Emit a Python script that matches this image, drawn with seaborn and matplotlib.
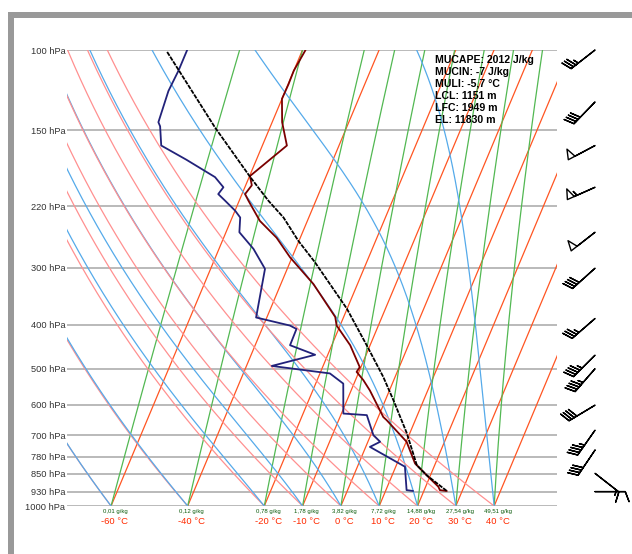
import numpy as np
import pandas as pd
import matplotlib
matplotlib.use('Agg')
import matplotlib.pyplot as plt
import seaborn as sns
from matplotlib import font_manager
from matplotlib.patches import Rectangle
from matplotlib.ticker import NullLocator

# pressure levels shown on the left axis
P_TICKS = [100, 150, 220, 300, 400, 500, 600, 700, 780, 850, 930, 1000]

# 1000 hPa temperatures where the isotherms / adiabats / mixing lines start
BASE_T = [-60, -40, -20, -10, 0, 10, 20, 30, 40]
MIX_LABELS = ['0,01', '0,12', '0,78', '1,78', '3,82', '7,72', '14,88', '27,54', '49,51']

# sounding: temperature
temp_p = [100, 111, 119, 128, 144, 162, 189, 198, 207, 214, 237, 258, 285, 326,
          385, 402, 444, 496, 508, 530, 558, 638, 648, 723, 807, 863, 907, 923, 927]
temp_t = [-59.2, -60.0, -59.9, -60.0, -57.4, -53.6, -59.9, -58.4, -59.2, -57.6,
          -52.4, -46.2, -40.5, -31.5, -22.2, -20.9, -15.2, -10.3, -10.6, -7.9,
          -5.1, 1.3, 2.5, 10.1, 14.7, 19.6, 23.3, 24.1, 26.0]

# sounding: dew point
dew_p = [100, 111, 123, 144, 147, 162, 174, 190, 200, 207, 214, 225, 233, 251,
         273, 302, 386, 402, 409, 444, 466, 493, 512, 539, 627, 632, 699, 723,
         742, 820, 923, 927]
dew_t = [-90.1, -90.1, -90.5, -89.7, -88.8, -86.4, -78.3, -68.9, -65.6, -66.2,
         -63.7, -60.0, -57.9, -56.5, -51.0, -45.8, -42.8, -33.1, -31.0, -30.9,
         -23.3, -33.4, -17.4, -12.8, -9.5, -3.2, 0.7, 3.2, 1.1, 12.4, 15.4, 17.2]

# most unstable parcel path
parcel_p = [101, 148, 190, 214, 233, 262, 292, 369, 444, 521, 586, 692, 767, 813, 856, 926]
parcel_t = [-95.1, -74.3, -59.7, -52.4, -46.6, -40.2, -33.5, -20.1, -10.9, -3.1,
            2.1, 9.2, 13.1, 15.3, 19.0, 25.9]

# wind profile (direction deg, speed kt)
wind_p = [100, 130, 162, 200, 251, 301, 388, 467, 500, 601, 682, 754, 848, 930]
wind_dir = [232, 224, 242, 246, 232, 228, 229, 225, 221, 239, 215, 214, 128, 90]
wind_spd = [35, 40, 50, 55, 50, 40, 35, 45, 45, 40, 45, 40, 15, 10]

INDICES = ['MUCAPE: 2012 J/kg', 'MUCIN: -7 J/kg', 'MULI: -5,7 °C',
           'LCL: 1151 m', 'LFC: 1949 m', 'EL: 11830 m']

SKEW = 21.7


def skew_x(t, p):
    return np.asarray(t) + SKEW * np.log(1000.0 / np.asarray(p))


def sat_vp(tc):
    return 6.112 * np.exp(17.67 * tc / (tc + 243.5))


def mixing_line(t0, pres):
    w = 622.0 * sat_vp(t0) / (1000.0 - sat_vp(t0))
    e = w * pres / (622.0 + w)
    a = np.log(e / 6.112)
    return 243.5 * a / (17.67 - a)


def moist_adiabat(t0, pres):
    Rd, Cp, Lv, eps = 287.04, 1005.7, 2.501e6, 0.622

    def rate(T, p):
        e = sat_vp(T - 273.15)
        rs = eps * e / (p - e)
        return (Rd * T + Lv * rs) / (Cp + Lv ** 2 * rs * eps / (Rd * T ** 2))

    T = t0 + 273.15
    out = [T]
    lnp = np.log(pres)
    for i in range(1, len(pres)):
        h = lnp[i] - lnp[i - 1]
        pm = np.exp(0.5 * (lnp[i] + lnp[i - 1]))
        k1 = rate(T, pres[i - 1])
        k2 = rate(T + 0.5 * h * k1, pm)
        k3 = rate(T + 0.5 * h * k2, pm)
        k4 = rate(T + h * k3, pres[i])
        T = T + h * (k1 + 2 * k2 + 2 * k3 + k4) / 6
        out.append(T)
    return np.array(out) - 273.15


sns.set_theme(style='white')
names = {f.name for f in font_manager.fontManager.ttflist}
narrow = 'Liberation Sans Narrow' in names
plt.rcParams['font.family'] = ['Liberation Sans', 'DejaVu Sans']

fig = plt.figure(figsize=(6.32, 5.54), dpi=100)
fig.patch.set_facecolor('white')

# grey frame of the original page
fig.patches.append(Rectangle((8 / 632, 0), 6 / 632, 542 / 554, transform=fig.transFigure,
                             color='#999999', lw=0, zorder=0))
fig.patches.append(Rectangle((8 / 632, 536 / 554), 1, 6 / 554, transform=fig.transFigure,
                             color='#999999', lw=0, zorder=0))

ax = fig.add_axes([67 / 632, 48 / 554, 490 / 632, 456 / 554])
XMIN, XMAX = -71.5, 56.4

pres = np.geomspace(1000, 100, 200)
for t0 in BASE_T:
    ax.plot(skew_x(np.full_like(pres, t0), pres), pres, color='#ff5522', lw=0.9, zorder=2)
    ax.plot(skew_x(mixing_line(t0, pres), pres), pres, color='#52b852', lw=0.9, zorder=2)
    dry = (t0 + 273.15) * (pres / 1000.0) ** 0.2857 - 273.15
    ax.plot(skew_x(dry, pres), pres, color='#ff9090', lw=0.9, zorder=2)
    ax.plot(skew_x(moist_adiabat(t0, pres), pres), pres, color='#55aaea', lw=0.9, zorder=2)

ax.hlines(P_TICKS, XMIN, XMAX, color='#b4b4b4', lw=1.3, zorder=1)

profiles = [
    (temp_p, temp_t, '#7a0000', '-'),
    (dew_p, dew_t, '#22227a', '-'),
    (parcel_p, parcel_t, 'black', (0, (2.5, 0.6))),
]
for p, t, col, ls in profiles:
    df = pd.DataFrame({'x': skew_x(t, p), 'p': p})
    sns.lineplot(data=df, x='x', y='p', sort=False, estimator=None, ax=ax,
                 color=col, lw=1.3, linestyle=ls, zorder=4)

ax.set_yscale('log')
ax.set_ylim(1000, 100)
ax.set_xlim(XMIN, XMAX)
ax.set_yticks(P_TICKS)
ax.set_yticklabels([f'{p} hPa' for p in P_TICKS])
ax.yaxis.set_minor_locator(NullLocator())
ax.set_xticks([])
ax.set_xlabel('')
ax.set_ylabel('')
ax.tick_params(axis='y', length=0, pad=1.2, labelsize=6.7, labelcolor='#333333')
for s in ax.spines.values():
    s.set_visible(False)

for t0, lbl in zip(BASE_T, MIX_LABELS):
    ax.annotate(f'{lbl} g/kg', xy=(t0 + 1, 1000), xytext=(0, -2.5),
                textcoords='offset points', ha='center', va='top',
                fontsize=4.3, color='#0a5a0a', annotation_clip=False)
    ax.annotate(f'{t0} °C', xy=(t0 + 1, 1000), xytext=(0, -8),
                textcoords='offset points', ha='center', va='top',
                fontsize=6.8, color='#ff2a00', annotation_clip=False)

if narrow:
    tkw = dict(family=['Liberation Sans Narrow', 'DejaVu Sans'], fontsize=9.2)
else:
    tkw = dict(fontsize=7.6)
ax.text(0.751, 0.99, '\n'.join(INDICES), transform=ax.transAxes, ha='left', va='top',
        fontweight='bold', color='black', linespacing=1.27, zorder=6, **tkw)

# wind barbs column
ax2 = fig.add_axes([557 / 632, 48 / 554, 75 / 632, 456 / 554])
ax2.set_yscale('log')
ax2.set_ylim(1000, 100)
ax2.set_xlim(0, 1)
ax2.axis('off')
rad = np.deg2rad(wind_dir)
u = -np.array(wind_spd) * np.sin(rad)
v = -np.array(wind_spd) * np.cos(rad)
ax2.barbs(np.full(len(wind_p), 0.507), wind_p, u, v, length=6.6, lw=1.0,
          barbcolor='black', flagcolor='none', clip_on=False,
          sizes=dict(spacing=0.1, height=0.33, width=0.25))

fig.savefig('out.png', dpi=100, facecolor='white')
